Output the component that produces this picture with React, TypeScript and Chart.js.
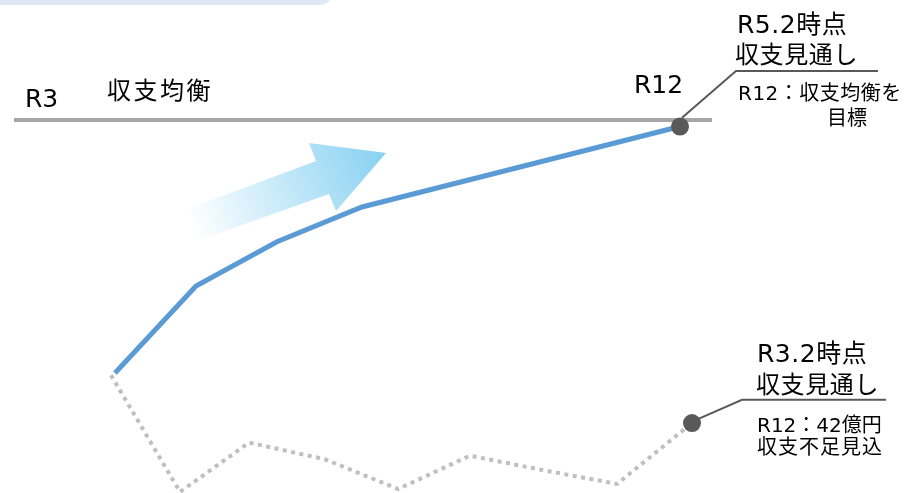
import { useEffect, useRef } from "react";
import { Chart, registerables } from "chart.js";

Chart.register(...registerables);

// ---- data (x: horizontal position units, y: 収支 in 億円) ----
const outlookR5X = [115, 196, 277, 362, 680];
const outlookR5Y = [-34.9, -22.9, -16.8, -12.0, -0.9];
const outlookR3X = [111, 180, 249, 325, 398, 470, 543, 617, 692];
const outlookR3Y = [-35.2, -51.3, -44.5, -46.8, -50.9, -46.3, -48.3, -50.2, -41.8];
const balanceX = [14, 712];
const balanceY = [0, 0];
const leaderR5X = [682, 736, 878];
const leaderR5Y = [0.3, 6.76, 6.76];
const leaderR3X = [699, 742, 886];
const leaderR3Y = [-41.2, -38.6, -38.6];

const startLabel = "R3";
const endLabel = "R12";
const balanceLabel = "収支均衡";
const r5Title = ["R5.2時点", "収支見通し"];
const r5Note = ["R12：収支均衡を", "目標"];
const r3Title = ["R3.2時点", "収支見通し"];
const r3Note = ["R12：42億円", "収支不足見込"];

const FONT = '"DejaVu Sans", "Noto Sans CJK JP", sans-serif';

const toXY = (xs: number[], ys: number[]) => xs.map((x, i) => ({ x, y: ys[i] }));

const decorPlugin = {
  id: "decor",
  beforeDatasetsDraw(chart: any) {
    const ctx = chart.ctx as CanvasRenderingContext2D;
    ctx.save();
    // top-left panel edge
    ctx.fillStyle = "#dee9f4";
    ctx.beginPath();
    (ctx as any).roundRect(-20, -30, 353, 35, 14);
    ctx.fill();
    // gradient arrow
    const g = ctx.createLinearGradient(190, 225, 386, 153);
    g.addColorStop(0, "rgba(135,209,242,0)");
    g.addColorStop(1, "rgba(135,209,242,1)");
    ctx.fillStyle = g;
    ctx.beginPath();
    ctx.moveTo(185, 210);
    ctx.lineTo(316, 161);
    ctx.lineTo(309, 143);
    ctx.lineTo(386, 153);
    ctx.lineTo(336, 211);
    ctx.lineTo(329, 194);
    ctx.lineTo(197, 241);
    ctx.closePath();
    ctx.fill();
    ctx.restore();
  },
  afterDatasetsDraw(chart: any) {
    const ctx = chart.ctx as CanvasRenderingContext2D;
    ctx.save();
    ctx.fillStyle = "#000";
    ctx.textBaseline = "alphabetic";
    ctx.textAlign = "left";
    const put = (t: string, x: number, y: number, size: number, ls = 0) => {
      ctx.font = `${size}px ${FONT}`;
      (ctx as any).letterSpacing = `${ls}px`;
      ctx.fillText(t, x, y);
    };
    put(startLabel, 25, 107, 25);
    put(balanceLabel, 107, 99, 24, 2.5);
    put(endLabel, 634, 93, 25);
    put(r5Title[0], 737, 33, 25, 0.5);
    put(r5Title[1], 735, 63, 24, 0.6);
    put(r5Note[0], 738, 100, 20, 0.5);
    put(r5Note[1], 827, 125, 20);
    put(r3Title[0], 757, 362, 25, 0.5);
    put(r3Title[1], 756, 393, 24, 0.6);
    put(r3Note[0], 757, 432, 20, 0);
    put(r3Note[1], 757, 454, 20, 1);
    ctx.restore();
  },
};

export default function App() {
  const ref = useRef<HTMLCanvasElement | null>(null);
  useEffect(() => {
    document.body.style.margin = "0";
    const canvas = ref.current!;
    const chart = new Chart(canvas, {
      type: "line",
      data: {
        datasets: [
          {
            label: "dots",
            data: [
              { x: outlookR5X[outlookR5X.length - 1], y: outlookR5Y[outlookR5Y.length - 1] },
              { x: outlookR3X[outlookR3X.length - 1], y: outlookR3Y[outlookR3Y.length - 1] },
            ],
            showLine: false,
            pointRadius: 9,
            pointBackgroundColor: "#595959",
            pointBorderWidth: 0,
            order: 0,
          },
          {
            label: "R5.2時点 収支見通し",
            data: toXY(outlookR5X, outlookR5Y),
            borderColor: "#5b9bd5",
            borderWidth: 5,
            pointRadius: 0,
            borderJoinStyle: "miter",
            order: 1,
          },
          {
            label: "収支均衡",
            data: toXY(balanceX, balanceY),
            borderColor: "#a6a6a6",
            borderWidth: 4,
            pointRadius: 0,
            order: 2,
          },
          {
            label: "R3.2時点 収支見通し",
            data: toXY(outlookR3X, outlookR3Y),
            borderColor: "#bfbfbf",
            borderWidth: 4,
            borderDash: [4, 4.5],
            pointRadius: 0,
            order: 3,
          },
          {
            label: "leaderR5",
            data: toXY(leaderR5X, leaderR5Y),
            borderColor: "#595959",
            borderWidth: 2,
            pointRadius: 0,
            order: 4,
          },
          {
            label: "leaderR3",
            data: toXY(leaderR3X, leaderR3Y),
            borderColor: "#595959",
            borderWidth: 2,
            pointRadius: 0,
            order: 4,
          },
        ],
      },
      options: {
        animation: false,
        responsive: false,
        devicePixelRatio: 1,
        layout: { padding: 0, autoPadding: false },
        plugins: { legend: { display: false }, tooltip: { enabled: false } },
        scales: {
          x: { type: "linear", min: 0, max: 904, display: false },
          y: { type: "linear", min: -51.45, max: 16.55, display: false },
        },
        elements: { line: { tension: 0 } },
      },
      plugins: [decorPlugin],
    } as any);
    return () => chart.destroy();
  }, []);
  return (
    <div style={{ width: 904, height: 493, background: "#fff" }}>
      <canvas ref={ref} width={904} height={493} />
    </div>
  );
}
